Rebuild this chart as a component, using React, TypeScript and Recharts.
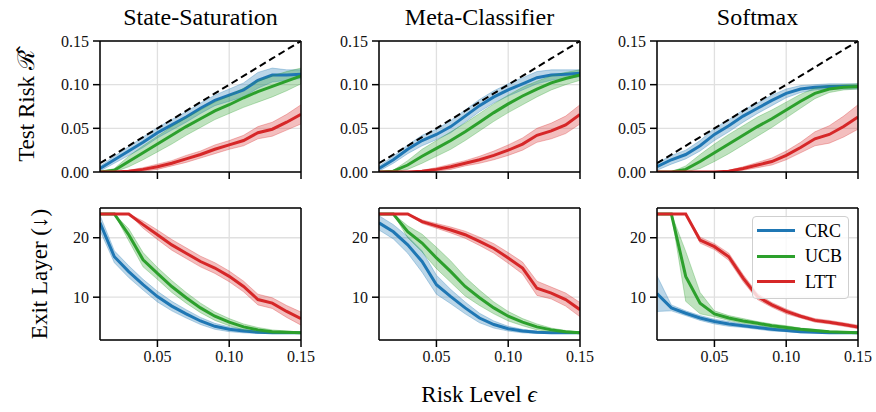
import React from 'react';
import { ComposedChart, Line, Area, XAxis, YAxis, CartesianGrid, Legend, ReferenceLine } from 'recharts';

const eps = [0.01, 0.02, 0.03, 0.04, 0.05, 0.06, 0.07, 0.08, 0.09, 0.1, 0.11, 0.12, 0.13, 0.14, 0.15];
const xTicks = [0.05, 0.1, 0.15];
const riskTicks = [0, 0.05, 0.1, 0.15];
const layerTicks = [10, 20];
const methods = ['CRC', 'UCB', 'LTT'];
const colors = ['#1f77b4', '#2ca02c', '#d62728'];
const titles = ['State-Saturation', 'Meta-Classifier', 'Softmax'];

// ---- Test risk (top row) ----
const ssRiskCRC = [0.004, 0.014, 0.024, 0.034, 0.045, 0.054, 0.063, 0.073, 0.082, 0.088, 0.094, 0.105, 0.111, 0.111, 0.112];
const ssRiskCRCBand = [0.003, 0.004, 0.005, 0.006, 0.006, 0.006, 0.006, 0.006, 0.006, 0.007, 0.008, 0.009, 0.008, 0.006, 0.005];
const ssRiskUCB = [0.0, 0.002, 0.012, 0.022, 0.032, 0.042, 0.052, 0.061, 0.07, 0.077, 0.085, 0.092, 0.098, 0.104, 0.11];
const ssRiskUCBBand = [0.0, 0.002, 0.006, 0.008, 0.009, 0.01, 0.01, 0.01, 0.01, 0.01, 0.011, 0.012, 0.012, 0.011, 0.009];
const ssRiskLTT = [0.0, 0.0, 0.001, 0.003, 0.006, 0.01, 0.015, 0.02, 0.026, 0.031, 0.036, 0.045, 0.049, 0.057, 0.066];
const ssRiskLTTBand = [0.0, 0.0, 0.001, 0.002, 0.003, 0.003, 0.004, 0.004, 0.005, 0.005, 0.006, 0.007, 0.008, 0.009, 0.011];

const mcRiskCRC = [0.004, 0.014, 0.026, 0.036, 0.043, 0.052, 0.064, 0.076, 0.086, 0.094, 0.101, 0.108, 0.111, 0.112, 0.113];
const mcRiskCRCBand = [0.003, 0.004, 0.005, 0.006, 0.006, 0.007, 0.007, 0.007, 0.007, 0.007, 0.007, 0.007, 0.006, 0.005, 0.004];
const mcRiskUCB = [0.0, 0.001, 0.008, 0.018, 0.027, 0.036, 0.046, 0.057, 0.068, 0.078, 0.087, 0.095, 0.102, 0.107, 0.111];
const mcRiskUCBBand = [0.0, 0.001, 0.005, 0.008, 0.009, 0.01, 0.01, 0.01, 0.01, 0.01, 0.01, 0.009, 0.008, 0.007, 0.006];
const mcRiskLTT = [0.0, 0.0, 0.0, 0.001, 0.003, 0.006, 0.01, 0.014, 0.019, 0.025, 0.032, 0.042, 0.047, 0.054, 0.066];
const mcRiskLTTBand = [0.0, 0.0, 0.0, 0.001, 0.002, 0.003, 0.003, 0.004, 0.005, 0.006, 0.007, 0.008, 0.009, 0.01, 0.011];

const smRiskCRC = [0.006, 0.014, 0.02, 0.03, 0.043, 0.053, 0.064, 0.073, 0.082, 0.09, 0.095, 0.097, 0.098, 0.098, 0.098];
const smRiskCRCBand = [0.004, 0.005, 0.005, 0.006, 0.007, 0.007, 0.007, 0.006, 0.006, 0.005, 0.004, 0.003, 0.003, 0.003, 0.003];
const smRiskUCB = [0.0, 0.0, 0.003, 0.012, 0.022, 0.032, 0.042, 0.052, 0.061, 0.071, 0.081, 0.09, 0.095, 0.097, 0.098];
const smRiskUCBBand = [0.0, 0.0, 0.004, 0.008, 0.01, 0.011, 0.011, 0.011, 0.01, 0.009, 0.008, 0.006, 0.004, 0.003, 0.003];
const smRiskLTT = [0.0, 0.0, 0.0, 0.0, 0.0, 0.001, 0.004, 0.008, 0.012, 0.019, 0.028, 0.038, 0.043, 0.052, 0.063];
const smRiskLTTBand = [0.0, 0.0, 0.0, 0.0, 0.0, 0.001, 0.002, 0.003, 0.004, 0.005, 0.006, 0.008, 0.01, 0.012, 0.014];

// ---- Exit layer (bottom row) ----
const ssLayerCRC = [22.5, 16.8, 14.3, 12.1, 10.1, 8.5, 7.2, 6.0, 5.1, 4.6, 4.3, 4.1, 4.0, 4.0, 4.0];
const ssLayerCRCBand = [1.3, 1.0, 1.0, 0.9, 0.9, 0.8, 0.7, 0.6, 0.5, 0.4, 0.3, 0.2, 0.1, 0.1, 0.1];
const ssLayerUCB = [24, 24, 20.5, 16.3, 14.0, 11.8, 9.9, 8.2, 6.8, 5.8, 5.0, 4.5, 4.2, 4.1, 4.0];
const ssLayerUCBBand = [0, 0, 1.0, 1.2, 1.0, 1.0, 0.9, 0.8, 0.7, 0.6, 0.5, 0.4, 0.3, 0.2, 0.1];
const ssLayerLTT = [24, 24, 24, 22.2, 20.5, 18.8, 17.4, 16.0, 14.9, 13.5, 11.8, 9.6, 9.0, 7.6, 6.4];
const ssLayerLTTBand = [0, 0, 0, 0.6, 0.8, 0.9, 0.9, 0.9, 0.9, 0.9, 0.9, 0.9, 0.9, 1.0, 1.1];

const mcLayerCRC = [22.5, 21.0, 18.8, 16.0, 12.1, 10.1, 8.2, 6.5, 5.4, 4.7, 4.3, 4.1, 4.0, 4.0, 4.0];
const mcLayerCRCBand = [1.2, 1.2, 1.4, 1.8, 1.6, 1.2, 1.0, 0.8, 0.6, 0.4, 0.3, 0.2, 0.1, 0.1, 0.1];
const mcLayerUCB = [24, 24, 21.0, 19.1, 16.6, 14.3, 11.8, 9.9, 8.2, 6.8, 5.8, 5.0, 4.5, 4.2, 4.0];
const mcLayerUCBBand = [0, 0, 1.0, 1.5, 1.8, 1.8, 1.6, 1.3, 1.0, 0.8, 0.6, 0.5, 0.3, 0.2, 0.1];
const mcLayerLTT = [24, 24, 24, 22.7, 22.0, 21.3, 20.5, 19.4, 18.2, 16.6, 14.9, 11.5, 10.7, 9.6, 7.9];
const mcLayerLTTBand = [0, 0, 0, 0.3, 0.4, 0.5, 0.6, 0.7, 0.8, 0.9, 1.0, 1.2, 1.0, 1.1, 1.2];

const smLayerCRC = [10.6, 8.2, 7.3, 6.5, 5.9, 5.5, 5.2, 4.9, 4.6, 4.4, 4.2, 4.1, 4.0, 4.0, 4.0];
const smLayerCRCBand = [3.0, 0.5, 0.4, 0.4, 0.4, 0.4, 0.3, 0.3, 0.3, 0.2, 0.2, 0.1, 0.1, 0.1, 0.1];
const smLayerUCB = [24, 24, 13.5, 9.0, 7.2, 6.5, 6.0, 5.6, 5.2, 4.9, 4.6, 4.4, 4.2, 4.1, 4.0];
const smLayerUCBBand = [0, 0, 4.2, 1.8, 0.5, 0.4, 0.4, 0.3, 0.3, 0.3, 0.2, 0.2, 0.1, 0.1, 0.1];
const smLayerLTT = [24, 24, 24, 19.6, 18.5, 16.8, 13.2, 10.1, 8.7, 7.6, 6.8, 6.1, 5.8, 5.4, 5.0];
const smLayerLTTBand = [0, 0, 0, 0.5, 0.5, 0.6, 0.6, 0.5, 0.4, 0.4, 0.3, 0.3, 0.3, 0.3, 0.3];

const FONT = '"Liberation Serif", "DejaVu Serif", serif';

function buildRows(means: number[][], bands: number[][], floor: number) {
  return eps.map((e, i) => {
    const row: any = { eps: e, diag: e };
    methods.forEach((m, k) => {
      const mu = means[k][i];
      const hw = bands[k][i];
      const lo = Math.max(floor, mu - hw);
      const hi = mu + hw;
      row[m] = mu;
      row[m + '_lo'] = lo;
      row[m + '_hi'] = hi;
      row[m + '_band'] = [lo, hi];
    });
    return row;
  });
}

const riskRows = [
  buildRows([ssRiskCRC, ssRiskUCB, ssRiskLTT], [ssRiskCRCBand, ssRiskUCBBand, ssRiskLTTBand], 0),
  buildRows([mcRiskCRC, mcRiskUCB, mcRiskLTT], [mcRiskCRCBand, mcRiskUCBBand, mcRiskLTTBand], 0),
  buildRows([smRiskCRC, smRiskUCB, smRiskLTT], [smRiskCRCBand, smRiskUCBBand, smRiskLTTBand], 0),
];
const layerRows = [
  buildRows([ssLayerCRC, ssLayerUCB, ssLayerLTT], [ssLayerCRCBand, ssLayerUCBBand, ssLayerLTTBand], 0),
  buildRows([mcLayerCRC, mcLayerUCB, mcLayerLTT], [mcLayerCRCBand, mcLayerUCBBand, mcLayerLTTBand], 0),
  buildRows([smLayerCRC, smLayerUCB, smLayerLTT], [smLayerCRCBand, smLayerUCBBand, smLayerLTTBand], 0),
];

const YW = 56;
const PW = 201;
const MR = 20;
const MT = 12;
const XH = 30;
const TICK_FS = 16;
const panelLefts = [100, 379, 657];

const renderLegend = () => (
  <div
    style={{
      width: 97,
      height: 83,
      boxSizing: 'border-box',
      border: '1.5px solid #cfcfcf',
      borderRadius: 4,
      background: 'rgba(255,255,255,0.8)',
      paddingTop: 1,
      fontFamily: FONT,
    }}
  >
    {methods.map((m, k) => (
      <div key={m} style={{ display: 'flex', alignItems: 'center', height: 25.5 }}>
        <div style={{ width: 38, height: 3, background: colors[k], marginLeft: 4, marginRight: 10 }} />
        <span style={{ fontSize: 18, color: '#000', lineHeight: '18px' }}>{m}</span>
      </div>
    ))}
  </div>
);

function Panel(props: { rows: any[]; risk: boolean; left: number; top: number; plotH: number; showLegend?: boolean }) {
  const { rows, risk, left, top, plotH, showLegend } = props;
  const W = YW + PW + MR;
  const H = MT + plotH + XH;
  const yDomain: [number, number] = risk ? [0, 0.15] : [2.8, 25];
  const axisStyle = { stroke: '#000', strokeWidth: 1.5 };
  return (
    <div style={{ position: 'absolute', left: left - YW, top: top - MT }}>
      <ComposedChart width={W} height={H} data={rows} margin={{ top: MT, right: MR, left: 0, bottom: 0 }}>
        <CartesianGrid stroke="#e0e0e0" strokeWidth={1.3} />
        <XAxis
          dataKey="eps"
          type="number"
          domain={[0.01, 0.15]}
          ticks={xTicks}
          interval={0}
          allowDataOverflow
          height={XH}
          tickSize={7}
          tickMargin={4}
          axisLine={axisStyle}
          tickLine={axisStyle}
          tick={{ fontSize: TICK_FS, fill: '#111', fontFamily: FONT }}
          tickFormatter={(v: number) => (risk ? '' : v.toFixed(2))}
        />
        <YAxis
          type="number"
          domain={yDomain}
          ticks={risk ? riskTicks : layerTicks}
          interval={0}
          allowDataOverflow
          width={YW}
          tickSize={7}
          tickMargin={4}
          axisLine={axisStyle}
          tickLine={axisStyle}
          tick={{ fontSize: TICK_FS, fill: '#111', fontFamily: FONT }}
          tickFormatter={(v: number) => (risk ? v.toFixed(2) : String(v))}
        />
        {methods.map((m, k) => [
          <Area
            key={m + 'band'}
            type="linear"
            dataKey={m + '_band'}
            stroke="none"
            fill={colors[k]}
            fillOpacity={0.3}
            isAnimationActive={false}
            legendType="none"
          />,
          <Line
            key={m + 'lo'}
            type="linear"
            dataKey={m + '_lo'}
            stroke={colors[k]}
            strokeOpacity={0.3}
            strokeWidth={1}
            dot={false}
            isAnimationActive={false}
            legendType="none"
          />,
          <Line
            key={m + 'hi'}
            type="linear"
            dataKey={m + '_hi'}
            stroke={colors[k]}
            strokeOpacity={0.3}
            strokeWidth={1}
            dot={false}
            isAnimationActive={false}
            legendType="none"
          />,
          <Line
            key={m + 'mean'}
            type="linear"
            dataKey={m}
            name={m}
            stroke={colors[k]}
            strokeWidth={3}
            dot={false}
            isAnimationActive={false}
          />,
        ])}
        {risk && (
          <Line
            type="linear"
            dataKey="diag"
            stroke="#000"
            strokeWidth={2}
            strokeDasharray="7 4"
            dot={false}
            isAnimationActive={false}
            legendType="none"
          />
        )}
        <ReferenceLine y={yDomain[1]} stroke="#000" strokeWidth={1.5} ifOverflow="visible" />
        <ReferenceLine x={0.15} stroke="#000" strokeWidth={1.5} ifOverflow="visible" />
        {showLegend && (
          <Legend
            layout="vertical"
            align="center"
            verticalAlign="middle"
            content={renderLegend}
            wrapperStyle={{ position: 'absolute', left: YW + 95, top: MT + 8, width: 97, height: 83 }}
          />
        )}
      </ComposedChart>
    </div>
  );
}

export default function App() {
  const rotLabel = (text: React.ReactNode, cx: number, cy: number) => (
    <div
      style={{
        position: 'absolute',
        left: cx - 90,
        top: cy - 13,
        width: 180,
        height: 26,
        lineHeight: '26px',
        textAlign: 'center',
        fontSize: 23,
        transform: 'rotate(-90deg)',
        whiteSpace: 'nowrap',
      }}
    >
      {text}
    </div>
  );
  return (
    <div
      style={{
        position: 'absolute',
        left: 0,
        top: 0,
        width: 876,
        height: 412,
        background: '#fff',
        fontFamily: FONT,
        color: '#000',
        overflow: 'hidden',
      }}
    >
      {titles.map((t, i) => (
        <div
          key={t}
          style={{
            position: 'absolute',
            left: panelLefts[i] - 20,
            width: PW + 40,
            top: 3,
            textAlign: 'center',
            fontSize: 24,
            lineHeight: '28px',
          }}
        >
          {t}
        </div>
      ))}
      {riskRows.map((rows, i) => (
        <Panel key={'r' + i} rows={rows} risk={true} left={panelLefts[i]} top={41} plotH={131} />
      ))}
      {layerRows.map((rows, i) => (
        <Panel key={'l' + i} rows={rows} risk={false} left={panelLefts[i]} top={208} plotH={132} showLegend={i === 2} />
      ))}
      {rotLabel(<>Test Risk {'\u211B\u0302'}</>, 27, 106)}
      {rotLabel('Exit Layer (↓)', 40, 274)}
      <div
        style={{
          position: 'absolute',
          left: 479 - 100,
          width: 200,
          top: 381,
          textAlign: 'center',
          fontSize: 23,
          lineHeight: '28px',
        }}
      >
        Risk Level <span style={{ fontStyle: 'italic' }}>ϵ</span>
      </div>
    </div>
  );
}
